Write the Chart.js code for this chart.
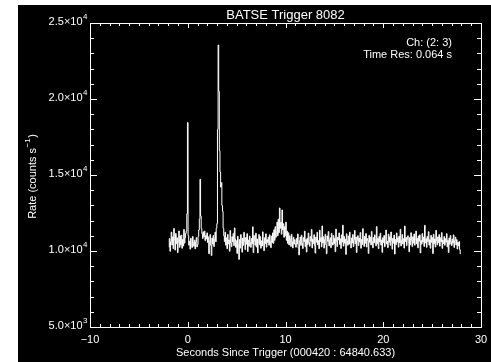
<!DOCTYPE html>
<html>
<head>
<meta charset="utf-8">
<script src="https://cdn.jsdelivr.net/npm/chart.js@4.4.0/dist/chart.umd.min.js"></script>
<style>
  html, body { margin: 0; padding: 0; background: #fff; }
  #wrap { position: absolute; left: 18px; top: 5px; width: 473px; height: 357px; background: #000; }
  canvas { display: block; }
</style>
</head>
<body>
<div id="wrap"><canvas id="lightCurve" width="473" height="357"></canvas></div>
<script>
// BATSE trigger 8082 light curve, channels 2-3, 64 ms bins
const chartTitle = "BATSE Trigger 8082";
const xAxisTitle = "Seconds Since Trigger (000420 : 64840.633)";
const channelNote = "Ch: (2: 3)";
const resNote = "Time Res: 0.064 s";

const startTime = -1.92;
const binWidth = 0.064;

// counts per second, one value per 64 ms bin
const rates = [
  10250, 10820, 9980, 10610, 11240, 10390, 10930, 10150, 11480, 10720,
  10060, 11150, 10480, 10870, 9890, 10560, 11320, 10240, 10990, 10410,
  11050, 10180, 10760, 10330, 11420, 10520, 10870, 11160,
  // first spike at t=0
  11300, 12450, 18450, 11020,
  10380, 10650, 10120, 10840, 10470, 10230, 10960, 10550, 10310, 10720,
  10140, 10590, 10880, 10270, 10430, 10950, 11380,
  // second spike
  12100, 14720, 12300,
  11480, 11150, 10820, 11260, 10940, 11310, 10680, 11020, 10790, 11190,
  10560, 10930, 9820, 10640, 11080, 10370, 9700, 10850, 10460, 11020,
  10290, 10780, 11240, 10610, 11500,
  // main pulse
  11800, 18000, 23550, 20500, 16600, 15200, 14200, 14500, 13000, 12600, 11500, 11000,
  10620, 11240, 10380, 10870, 10150, 11090, 10460, 10730, 9980, 11350,
  10520, 10280, 10940, 10610, 11160, 10350, 11520, 10790, 10240, 10680,
  9840, 10970, 10420, 9450, 10760, 10190, 11080, 10530, 9920, 10850,
  10370, 11230, 10620, 10090, 10880, 10450, 11140, 9960, 10720, 10310,
  10980, 10560, 10240, 10830, 10470, 11590, 9890, 11020, 10650, 10380,
  11170, 10260, 10790, 9870, 10540, 11080, 10410, 10940, 10180, 10670,
  10330, 11260, 10590, 10020, 10870, 10490, 11130, 10250, 10740, 10560,
  10910, 10380, 11070, 10640, 10220, 10980, 10550, 11190,
  // soft bump near 9.5 s
  10500, 11400, 10700, 11600, 10900, 11300, 11900, 11000, 12100, 11200,
  12830, 11500, 11900, 11100, 12700, 11400, 11800, 10900, 11600, 11000,
  11900, 10700, 11300, 10500, 11200, 10400, 11000, 10800, 10300, 11100,
  10600, 10200, 10900, 10450, 10750, 10500,
  // background to the end
  10250, 10830, 10460, 11120, 10190, 9740, 10680, 10920, 10370, 11040,
  10520, 10160, 10890, 10610, 11310, 10280, 10750, 9930, 10840, 10430,
  11180, 10570, 10310, 10960, 10640, 11420, 10200, 10780, 10490, 11070,
  10350, 9860, 10920, 10580, 11230, 10410, 10700, 10150, 11370, 10620,
  10880, 10270, 11650, 10530, 10940, 10190, 10760, 11100, 10420, 9820,
  10990, 10630, 11280, 10340, 10710, 10870, 10220, 11160, 10560, 10390,
  11020, 10480, 10830, 9950, 11440, 10620, 10290, 10910, 10730, 11190,
  10440, 10800, 10170, 11060, 10590, 11700, 10320, 10950, 10510, 10770,
  9780, 11130, 10660, 10380, 10990, 10450, 11240, 10610, 10200, 10860,
  10530, 11080, 10290, 10740, 11350, 10470, 10920, 9900, 10680, 11010,
  10360, 10850, 10590, 11220, 10180, 10760, 10430, 11470, 10640, 10300,
  10970, 10510, 11150, 10260, 10820, 10680, 9840, 11030, 10570, 10910,
  10400, 11290, 10620, 10210, 10890, 10530, 11060, 10750, 10340, 11610,
  10480, 10830, 10150, 10960, 10600, 11170, 10390, 10720, 9910, 10870,
  10550, 11020, 10280, 10790, 11380, 10460, 10640, 10220, 11110, 10580,
  10930, 10370, 11250, 10690, 10120, 10840, 10510, 11050, 9800, 10760,
  10420, 11190, 10600, 10870, 10250, 10980, 10540, 11430, 10330, 10710,
  11080, 10460, 10810, 10190, 11640, 10620, 10900, 10350, 10770, 11000,
  10560, 9950, 10880, 10410, 11200, 10680, 10290, 10940, 10520, 11120,
  10380, 10750, 11310, 10470, 10830, 10210, 10990, 10640, 11060, 9870,
  10700, 10450, 11150, 10590, 10920, 10300, 11690, 10530, 10810, 10240,
  10960, 10620, 11270, 10390, 10740, 10180, 11030, 10570, 10880, 9830,
  11100, 10480, 10790, 10260, 11360, 10650, 10410, 10930, 10550, 11080,
  10320, 10870, 10600, 11210, 10170, 10720, 10490, 10950, 10380, 10810,
  10580, 11140, 10270, 10690, 9900, 10860, 10440, 11020, 10610, 10350,
  10790, 10520, 11060, 10230, 10680, 10910, 10400, 10750, 10130, 10560,
  10340, 10620, 10080, 9800
];

// axis ticks
const xMajor = [-10, 0, 10, 20, 30];
const xLabels = ["\u221210", "0", "10", "20", "30"];
const yMajor = [5000, 10000, 15000, 20000, 25000];
const yMantissa = ["5.0", "1.0", "1.5", "2.0", "2.5"];
const yExponent = ["3", "4", "4", "4", "4"];

const FONT = '"Liberation Sans", Arial, sans-serif';
const INK = "#ffffff";

// mantissa x 10 with a raised exponent, right aligned at rightX
function drawPowerLabel(ctx, mant, exp, rightX, y) {
  ctx.font = `11px ${FONT}`;
  const base = mant + "\u00d710";
  const wBase = ctx.measureText(base).width;
  ctx.font = `8px ${FONT}`;
  const wExp = ctx.measureText(exp).width;
  const start = rightX - wBase - wExp;
  ctx.textAlign = "left";
  ctx.textBaseline = "middle";
  ctx.font = `11px ${FONT}`;
  ctx.fillText(base, start, y + 1);
  ctx.font = `8px ${FONT}`;
  ctx.fillText(exp, start + wBase + 0.5, y - 4);
}

// IDL-style frame: box with inward ticks on all four sides, plus all text
const framePlugin = {
  id: "idlFrame",
  afterDraw(chart) {
    const { ctx, chartArea: a, scales } = chart;
    const xs = scales.x, ys = scales.y;
    ctx.save();
    ctx.strokeStyle = INK;
    ctx.fillStyle = INK;
    ctx.lineWidth = 1;

    ctx.strokeRect(Math.round(a.left) + 0.5, Math.round(a.top) + 0.5,
      Math.round(a.right - a.left), Math.round(a.bottom - a.top));

    ctx.beginPath();
    for (let v = xs.min; v <= xs.max; v += 1) {
      const px = Math.round(xs.getPixelForValue(v)) + 0.5;
      const len = xMajor.includes(v) ? 5 : 3;
      ctx.moveTo(px, a.bottom); ctx.lineTo(px, a.bottom - len);
      ctx.moveTo(px, a.top); ctx.lineTo(px, a.top + len);
    }
    for (let v = ys.min; v <= ys.max; v += 1000) {
      const py = Math.round(ys.getPixelForValue(v)) + 0.5;
      const len = yMajor.includes(v) ? 7 : 4;
      ctx.moveTo(a.left, py); ctx.lineTo(a.left + len, py);
      ctx.moveTo(a.right, py); ctx.lineTo(a.right - len, py);
    }
    ctx.stroke();

    // x tick labels
    ctx.font = `11px ${FONT}`;
    ctx.textAlign = "center";
    ctx.textBaseline = "middle";
    xMajor.forEach((v, i) => {
      ctx.fillText(xLabels[i], xs.getPixelForValue(v), a.bottom + 13);
    });

    // y tick labels
    yMajor.forEach((v, i) => {
      drawPowerLabel(ctx, yMantissa[i], yExponent[i], a.left - 3, ys.getPixelForValue(v) - 2);
    });

    // titles
    const midX = (a.left + a.right) / 2;
    ctx.textAlign = "center";
    ctx.textBaseline = "middle";
    ctx.font = `13px ${FONT}`;
    ctx.fillText(chartTitle, midX, 10);
    ctx.font = `11px ${FONT}`;
    ctx.fillText(xAxisTitle, midX, a.bottom + 26);

    // rotated y title with s^-1
    ctx.save();
    ctx.translate(15, (a.top + a.bottom) / 2 + 2);
    ctx.rotate(-Math.PI / 2);
    ctx.font = `11px ${FONT}`;
    const p1 = "Rate (counts s", p2 = ")";
    ctx.font = `8px ${FONT}`;
    const sup = "\u22121";
    const wSup = ctx.measureText(sup).width;
    ctx.font = `11px ${FONT}`;
    const w1 = ctx.measureText(p1).width, w2 = ctx.measureText(p2).width;
    let sx = -(w1 + wSup + w2) / 2;
    ctx.textAlign = "left";
    ctx.fillText(p1, sx, 0);
    ctx.font = `8px ${FONT}`;
    ctx.fillText(sup, sx + w1 + 0.5, -5);
    ctx.font = `11px ${FONT}`;
    ctx.fillText(p2, sx + w1 + wSup + 1, 0);
    ctx.restore();

    // channel / resolution notes
    ctx.textAlign = "right";
    ctx.font = `11px ${FONT}`;
    ctx.fillText(channelNote, a.right - 29, a.top + 20);
    ctx.fillText(resNote, a.right - 29, a.top + 32);

    ctx.restore();
  },
};

const points = rates.map((r, i) => ({ x: startTime + i * binWidth, y: r }));

new Chart(document.getElementById("lightCurve").getContext("2d"), {
  type: "line",
  data: {
    datasets: [
      {
        data: points,
        borderColor: INK,
        borderWidth: 1,
        pointRadius: 0,
        tension: 0,
        stepped: "middle",
        fill: false,
      },
    ],
  },
  options: {
    responsive: false,
    animation: false,
    devicePixelRatio: 1,
    layout: { padding: { left: 72, right: 10, top: 18, bottom: 35 } },
    plugins: { legend: { display: false }, tooltip: { enabled: false } },
    scales: {
      x: { type: "linear", min: -10, max: 30, display: false },
      y: { type: "linear", min: 5000, max: 25000, display: false },
    },
  },
  plugins: [framePlugin],
});
</script>
</body>
</html>
